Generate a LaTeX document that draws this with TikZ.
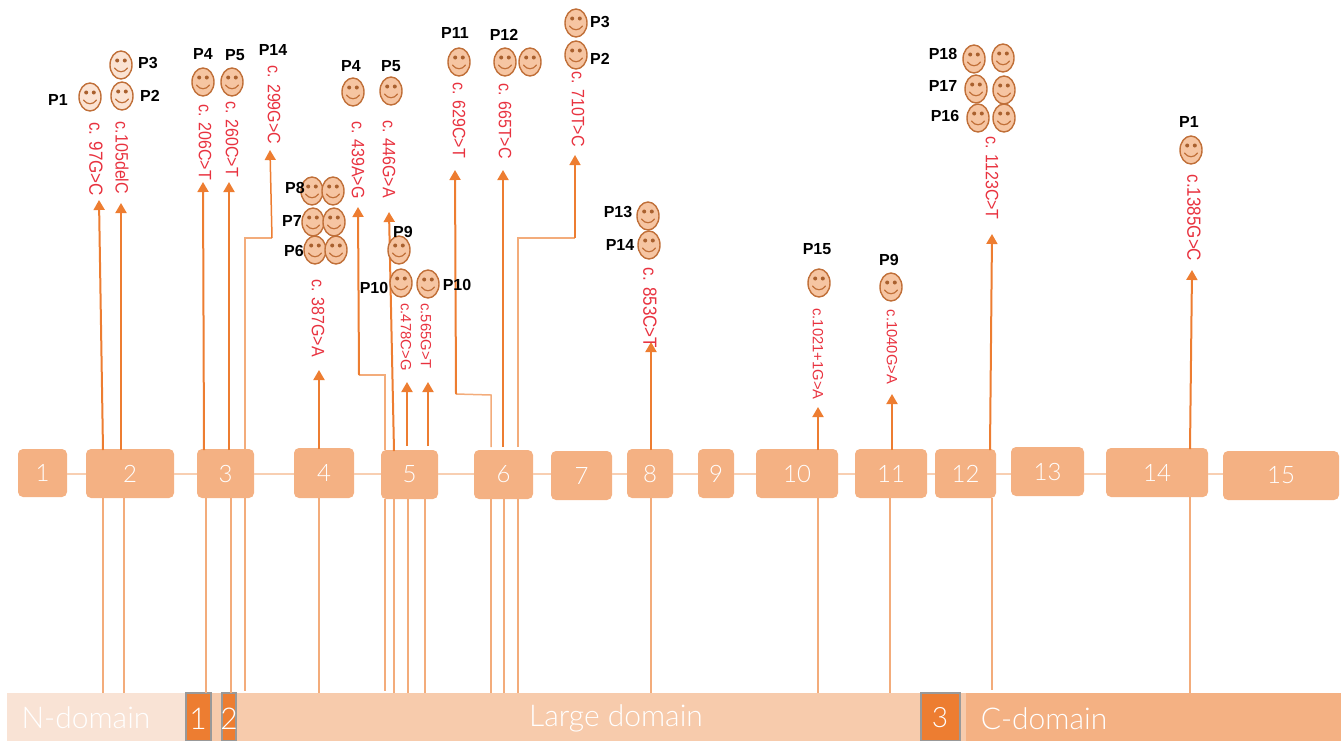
\documentclass[tikz,border=0pt]{standalone}
\usepackage{fontspec}
\setmainfont{Liberation Sans}
\newfontfamily\thinfont[UprightFont=* Light]{Lato}
\usetikzlibrary{arrows.meta,shapes.geometric}
\definecolor{orng}{HTML}{ED7D31}
\definecolor{exonc}{HTML}{F4B183}
\definecolor{midc}{HTML}{F7CBAC}
\definecolor{lightc}{HTML}{F9E3D5}
\definecolor{facec}{HTML}{F6C5A2}
\definecolor{facel}{HTML}{FBE3D3}
\definecolor{edgec}{HTML}{C06F38}
\definecolor{eyec}{HTML}{A9602E}
\definecolor{mutc}{HTML}{E8323F}
\definecolor{linkc}{HTML}{F8CFB2}
\definecolor{thinc}{HTML}{F3AC7B}
\tikzset{
 exonbox/.style={fill=exonc,draw=none,rounded corners=5pt,inner sep=0pt,text=white,font=\thinfont\fontsize{24}{24}\selectfont},
 dombox/.style={draw=none,inner sep=0pt,text=white,font=\thinfont\fontsize{27}{27}\selectfont},
 motif/.style={fill=orng,draw=gray!80,line width=1.2pt,inner sep=0pt,text=white},
 domtext/.style={text=white,inner sep=0pt,font=\thinfont\fontsize{30}{30}\selectfont},
 link/.style={draw=linkc,line width=1.5pt},
 thinline/.style={draw=thinc,line width=1.5pt},
 arrowline/.style={draw=orng,line width=2pt,-{Triangle[length=10pt,width=11pt]}},
 arrowmid/.style={draw=orng,line width=1.5pt,-{Triangle[length=10pt,width=11pt]}},
 arrowthin/.style={draw=thinc,line width=1.5pt},
 mut/.style={rotate=-90,text=mutc,inner sep=0pt,font=\fontsize{16}{16}\selectfont},
 mutb/.style={rotate=-90,text=mutc,inner sep=0pt,font=\fontsize{17}{17}\selectfont},
 muts/.style={rotate=-90,text=mutc,inner sep=0pt,font=\fontsize{14.8}{14.8}\selectfont},
 who/.style={text=black,inner sep=0pt,font=\bfseries\fontsize{16}{16}\selectfont},
 facebody/.style={ellipse,draw=edgec,line width=1.4pt,inner sep=0pt,minimum width=22pt,minimum height=28pt},
}
\newcommand{\tall}[1]{\scalebox{1}[1.12]{#1}}
\newcommand{\exon}[6]{\node[exonbox,minimum width={(#4-#2)*1pt},minimum height={(#5-#3)*1pt}] (#1) at ({(#2+#4)/2},{(#3+#5)/2}) {#6};}
\newcommand{\dom}[7]{\node[#6,minimum width={(#4-#2)*1pt},minimum height={(#5-#3)*1pt}] (#1) at ({(#2+#4)/2},{(#3+#5)/2}) {#7};}
\newcommand{\smiley}[4]{%
 \node[facebody,fill=#4] (#1) at (#2,#3) {};
 \begin{scope}[shift={(#2,#3)}]
  \fill[eyec] (-3.8,-4.5) circle (2pt) (3.8,-4.5) circle (2pt);
  \draw[edgec,line width=1.2pt,line cap=round] (-6.5,3) .. controls (-3,8) and (3,8) .. (6.5,3);
 \end{scope}}
\begin{document}
\begin{tikzpicture}[x=1pt,y=-1pt]
\useasboundingbox (0,0) rectangle (1341,740);
% domain bar
\dom{dn}{7}{693}{185}{741}{dombox,fill=lightc}{}
\dom{dgapa}{211}{693}{221}{741}{dombox,fill=midc}{}
\dom{dl}{236}{693}{920}{741}{dombox,fill=midc}{}
\dom{dgapb}{960}{693}{966}{741}{dombox,fill=midc}{}
\dom{dc}{966}{693}{1341}{741}{dombox,fill=exonc}{}
\dom{ma}{186}{693}{211}{741}{motif}{}
\dom{mb}{222}{693}{236}{741}{motif}{}
\dom{mc}{921}{693}{960}{741}{motif}{}
\node[domtext] (tn) at (86,718) {N-domain};
\node[domtext] (tl) at (616,718) {Large domain};
\node[domtext] (tc) at (1044,719) {C-domain};
\node[domtext] (t1) at (198,719) {1};
\node[domtext] (t2) at (229,719) {2};
\node[domtext,font=\thinfont\fontsize{28}{28}\selectfont] (t3) at (940,718) {3};
% exons
\exon{e1}{18}{449}{67}{497}{1}
\exon{e2}{86}{449}{174}{498}{2}
\exon{e3}{197}{449}{254}{498}{3}
\exon{e4}{294}{448}{354}{498}{4}
\exon{e5}{381}{450}{438}{499}{5}
\exon{e6}{474}{450}{533}{499}{6}
\exon{e7}{551}{451}{612}{500}{7}
\exon{e8}{627}{449}{673}{498}{8}
\exon{e9}{698}{449}{734}{498}{9}
\exon{e10}{756}{449}{838}{498}{10}
\exon{e11}{855}{449}{927}{498}{11}
\exon{e12}{935}{449}{996}{498}{12}
\exon{e13}{1011}{447}{1084}{496}{13}
\exon{e14}{1106}{448}{1208}{497}{14}
\exon{e15}{1223}{451}{1339}{500}{15}
\coordinate (linky) at (0,474);
\foreach \a/\b in {e1/e2,e2/e3,e3/e4,e4/e5,e5/e6,e6/e7,e7/e8,e8/e9,e9/e10,e10/e11,e11/e12,e12/e13,e13/e14,e14/e15}
  \draw[link] (\a.east |- linky) -- (\b.west |- linky);
% exon to domain lines
\foreach \n/\e/\x/\d in {a/e2/103/693,b/e2/124/693,c/e3/206/693,d/e3/231/693,e/e3/245/691,f/e4/319/693,g/e5/385/691,h/e5/394/693,i/e5/408/693,j/e5/425/693,k/e6/491/693,l/e6/504/693,m/e6/518/693,n/e8/651/693,o/e10/818/693,p/e11/890/693,q/e12/992/690,r/e14/1190/693}{
  \coordinate (low\n) at (\x,\d);
  \draw[thinline] (\e.south -| low\n) -- (low\n);
}
% straight arrows
\foreach \n/\sx/\sy/\tx/\ty in {a/103/450/99/200,b/121/450/121/203,c/204/450/203/182,d/229/450/229/182,f/319/449/319/370,h/394/451/389/212,i/407/446/407/382,j/428/446/428/382,l/503/447/503/170,n/651/450/651/342,o/818/450/818/407,p/892/450/892/394,q/990/450/992/234,r/1190/449/1192/270}{
  \coordinate (st\n) at (\sx,\sy);
  \coordinate (tip\n) at (\tx,\ty);
  \draw[arrowline] (st\n) -- (tip\n);
}
% stepped arrows
\coordinate (s14a) at (245,449); \coordinate (s14b) at (245,238); \coordinate (s14c) at (272,238); \coordinate (s14d) at (270,150);
\draw[arrowthin] (s14a) -- (s14b) -- (s14c);
\draw[arrowmid] (s14c) -- (s14d);
\coordinate (s39a) at (385,450); \coordinate (s39b) at (385,375); \coordinate (s39c) at (359,375); \coordinate (s39d) at (358,207);
\draw[arrowthin] (s39a) -- (s39b) -- (s39c);
\draw[arrowline] (s39c) -- (s39d);
\coordinate (s62a) at (491,447); \coordinate (s62b) at (491,395); \coordinate (s62c) at (456,394); \coordinate (s62d) at (455,170);
\draw[arrowthin] (s62a) -- (s62b) -- (s62c);
\draw[arrowline] (s62c) -- (s62d);
\coordinate (s71a) at (518,447); \coordinate (s71b) at (518,238); \coordinate (s71c) at (575,238); \coordinate (s71d) at (575,155);
\draw[arrowthin] (s71a) -- (s71b) -- (s71c);
\draw[arrowmid] (s71c) -- (s71d);
% mutation labels
\node[mutb] (m1) at (96,159) {\tall{c. 97G>C}};
\node[mut] (m2) at (122,158) {\tall{c.105delC}};
\node[mut] (m3) at (205,142) {\tall{c. 206C>T}};
\node[mut] (m4) at (232,139) {\tall{c. 260C>T}};
\node[mut] (m5) at (274,105) {\tall{c. 299G>C}};
\node[mut] (m6) at (318,318) {\tall{c. 387G>A}};
\node[mut] (m7) at (358,160) {\tall{c. 439A>G}};
\node[mut] (m8) at (389,159) {\tall{c. 446G>A}};
\node[muts] (m9) at (406,337) {c.478C>G};
\node[muts] (m10) at (426,336) {c.565G>T};
\node[mut] (m11) at (459,120) {\tall{c. 629C>T}};
\node[mut] (m12) at (505,121) {\tall{c. 665T>C}};
\node[mut] (m13) at (578,109) {\tall{c. 710T>C}};
\node[mutb] (m14) at (650,308) {\tall{c. 853C>T}};
\node[muts] (m15) at (818,354) {c.1021+1G>A};
\node[muts] (m16) at (892,347) {c.1040G>A};
\node[mut] (m17) at (992,178) {\tall{c. 1123C>T}};
\node[mutb] (m18) at (1194,218) {\tall{c.1385G>C}};
% faces
\smiley{f1}{90}{97}{facel}
\smiley{f2}{121}{65}{facel}
\smiley{f3}{122}{96}{facel}
\smiley{f4}{203}{82}{facec}
\smiley{f5}{232}{82}{facec}
\smiley{f6}{353}{92}{facec}
\smiley{f7}{391}{91}{facec}
\smiley{f8}{312}{191}{facec}
\smiley{f9}{333}{191}{facec}
\smiley{f10}{313}{222}{facec}
\smiley{f11}{334}{222}{facec}
\smiley{f12}{315}{250}{facec}
\smiley{f13}{336}{250}{facec}
\smiley{f14}{399}{250}{facec}
\smiley{f15}{401}{283}{facec}
\smiley{f16}{428}{284}{facec}
\smiley{f17}{459}{62}{facec}
\smiley{f18}{505}{62}{facec}
\smiley{f19}{530}{62}{facec}
\smiley{f20}{576}{23}{facec}
\smiley{f21}{576}{55}{facec}
\smiley{f22}{648}{216}{facec}
\smiley{f23}{649}{245}{facec}
\smiley{f24}{819}{283}{facec}
\smiley{f25}{891}{287}{facec}
\smiley{f26}{974}{59}{facec}
\smiley{f27}{1003}{58}{facec}
\smiley{f28}{976}{89}{facec}
\smiley{f29}{1004}{90}{facec}
\smiley{f30}{978}{118}{facec}
\smiley{f31}{1004}{118}{facec}
\smiley{f32}{1191}{150}{facec}
% patient labels
\foreach \n/\x/\y/\t in {a/58/100/P1,b/148/63/P3,c/150/96/P2,d/203/54/P4,e/235/55/P5,f/273/50/P14,g/295/188/P8,h/292/221/P7,i/294/251/P6,j/351/66/P4,k/391/66/P5,l/403/232/P9,m/374/288/P10,n/457/285/P10,o/455/33/P11,p/504/35/P12,q/600/22/P3,r/600/59/P2,s/618/212/P13,t/620/245/P14,u/817/249/P15,v/889/260/P9,w/943/54/P18,x/943/86/P17,y/945/116/P16,z/1189/122/P1}
  \node[who] (who\n) at (\x,\y) {\t};
\end{tikzpicture}
\end{document}
